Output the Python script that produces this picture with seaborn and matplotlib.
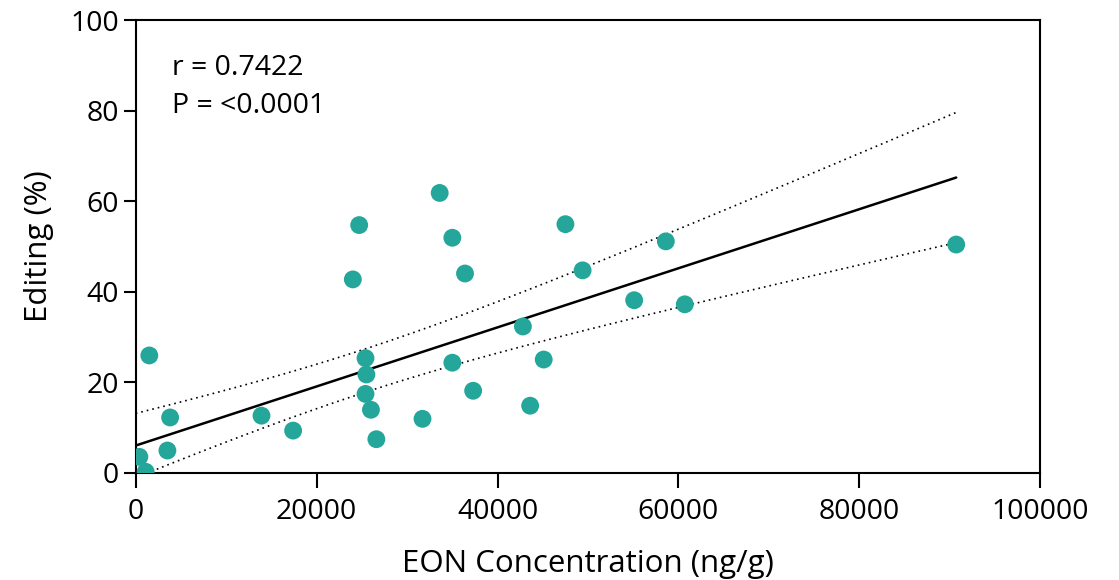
import numpy as np
import pandas as pd
import matplotlib
matplotlib.use("Agg")
import matplotlib.pyplot as plt
import seaborn as sns

# Data
eon_conc = [400, 1100, 1500, 3500, 3800, 13900, 17400, 24000, 24700, 25400,
            25500, 25400, 26000, 26600, 31700, 33600, 35000, 35000, 36400, 37300,
            42800, 43600, 45100, 47500, 49400, 55100, 58600, 60700, 90700]
editing = [3.5, 0.2, 25.9, 4.9, 12.2, 12.6, 9.3, 42.7, 54.7, 25.3,
           21.7, 17.4, 13.9, 7.4, 11.9, 61.8, 51.9, 24.3, 44.0, 18.1,
           32.3, 14.8, 25.0, 54.9, 44.7, 38.1, 51.1, 37.2, 50.4]
x_ticks = [0, 20000, 40000, 60000, 80000, 100000]
y_ticks = [0, 20, 40, 60, 80, 100]
annot_lines = ["r = 0.7422", "P = <0.0001"]

# Regression line and 95% CI band
fit_intercept = 6.0
fit_slope = 6.527e-4
band_center_x = 25290
band_min_sq = 22.9      # squared half-width at band centre
band_curv = 4.30e-8     # growth of squared half-width per x^2

sns.set_theme(style="ticks")
plt.rcParams['font.family'] = ['Open Sans', 'DejaVu Sans']

df = pd.DataFrame({"x": eon_conc, "y": editing})

xs = np.linspace(0, max(eon_conc), 200)
fit = fit_intercept + fit_slope * xs
half = np.sqrt(band_min_sq + band_curv * (xs - band_center_x) ** 2)
fit_df = pd.DataFrame({"x": xs, "fit": fit, "lo": fit - half, "hi": fit + half})

fig = plt.figure(figsize=(11.19, 5.80), dpi=100)
ax = fig.add_axes([0.1213, 0.1850, 0.8084, 0.7805])

sns.lineplot(data=fit_df, x="x", y="fit", ax=ax, color="black", linewidth=1.8, zorder=2)
sns.lineplot(data=fit_df, x="x", y="lo", ax=ax, color="black", linewidth=1.2,
             linestyle=(0, (1, 2.4)), zorder=2)
sns.lineplot(data=fit_df, x="x", y="hi", ax=ax, color="black", linewidth=1.2,
             linestyle=(0, (1, 2.4)), zorder=2)
sns.scatterplot(data=df, x="x", y="y", ax=ax, color="#24A69A", s=165,
                edgecolor="none", linewidth=0, zorder=3)

ax.set_xlim(0, 100000)
ax.set_ylim(0, 100)
ax.set_xticks(x_ticks)
ax.set_xticklabels([str(v) for v in x_ticks])
ax.set_yticks(y_ticks)
ax.set_yticklabels([str(v) for v in y_ticks])

for sp in ax.spines.values():
    sp.set_visible(True)
    sp.set_color("black")
    sp.set_linewidth(1.5)

ax.tick_params(axis="x", direction="out", length=11, width=1.5, labelsize=20.5, pad=7, colors="black")
ax.tick_params(axis="y", direction="out", length=9, width=1.5, labelsize=20.5, pad=3, colors="black")

ax.set_xlabel("EON Concentration (ng/g)", fontsize=22.5, labelpad=17, color="black")
ax.set_ylabel("Editing (%)", fontsize=22.5, labelpad=12, color="black")

ax.text(0.040, 0.893, annot_lines[0], transform=ax.transAxes, fontsize=20.5,
        va="center", ha="left", color="black")
ax.text(0.040, 0.809, annot_lines[1], transform=ax.transAxes, fontsize=20.5,
        va="center", ha="left", color="black")

fig.savefig("out.png", dpi=100)
